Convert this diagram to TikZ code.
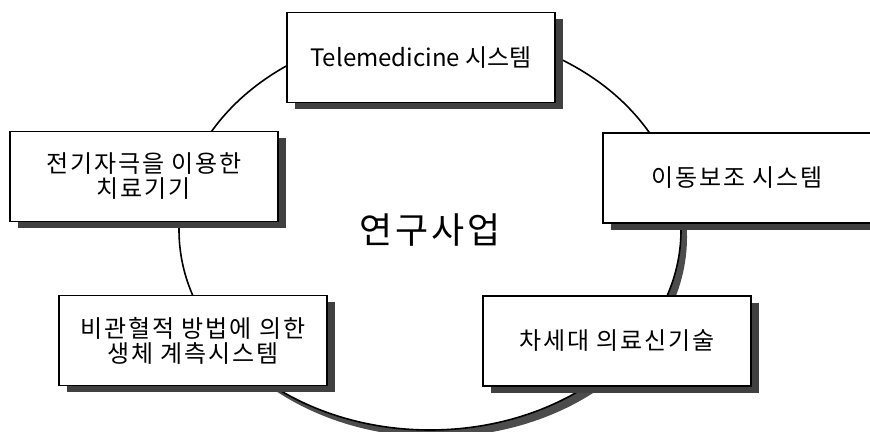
\documentclass[tikz,border=0pt]{standalone}
\usepackage{fontspec}
\newfontfamily\kr[LetterSpace=8]{Noto Sans CJK KR}
\newfontfamily\krplain{Noto Sans CJK KR}
\usetikzlibrary{shapes.geometric, shadows}
\tikzset{
  topic/.style={rectangle, draw=black, fill=white, line width=0.8pt, text centered, align=center,
    minimum width=134pt, minimum height=45pt, inner sep=0,
    font=\kr\fontsize{12}{12.5}\selectfont,
    drop shadow={shadow xshift=4pt, shadow yshift=-3.5pt, fill=black!75, opacity=1}},
  core/.style={ellipse, draw=black, fill=white, line width=0.8pt, text centered,
    minimum width=251pt, minimum height=200pt, inner sep=0,
    font=\kr\fontsize{18}{20}\selectfont,
    drop shadow={shadow xshift=3pt, shadow yshift=-3.5pt, fill=black!70, opacity=1}}
}
\begin{document}
\begin{tikzpicture}[x=0.5pt, y=0.5pt]
      \useasboundingbox (0, 0) rectangle (870, 432);
      \clip (0, 0) rectangle (870, 432);
      \node[core](c) at (430, 202){연구사업};

      \node[topic, font=\krplain\fontsize{12}{12.5}\selectfont](t1) at (421, 374.5){Telemedicine 시스템};
      \node[topic](t2) at (144, 255.5){전기자극을 이용한\\치료기기};
      \node[topic](t3) at (737, 254){이동보조 시스템};
      \node[topic](t4) at (193, 91.5){비관혈적 방법에 의한\\생체 계측시스템};
      \node[topic](t5) at (617, 91){차세대 의료신기술};
    \end{tikzpicture}
\end{document}
